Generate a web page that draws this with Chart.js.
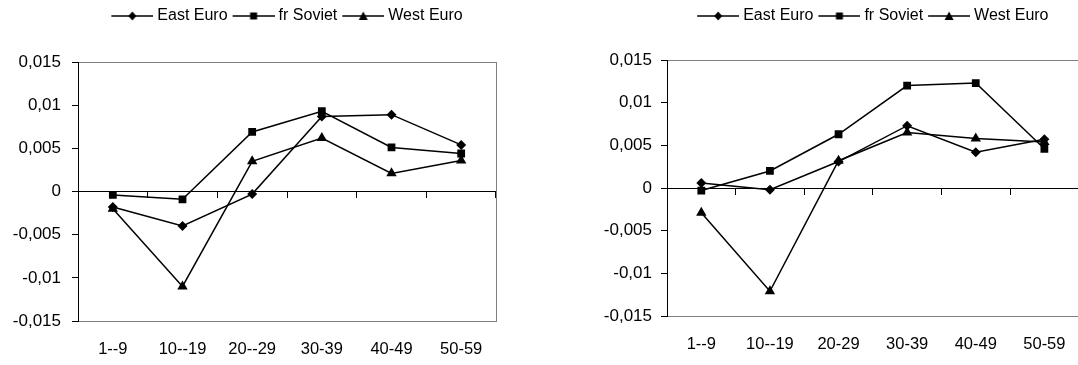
<!DOCTYPE html>
<html>
<head>
<meta charset="utf-8">
<script src="https://cdn.jsdelivr.net/npm/chart.js@4.4.1/dist/chart.umd.min.js"></script>
<style>
  html, body { margin: 0; padding: 0; background: #fff; overflow: hidden; }
  #wrap { position: relative; width: 1078px; height: 365px; overflow: hidden; }
  canvas { position: absolute; top: 0; }
  #left { left: 0; }
  #right { left: 540px; }
</style>
</head>
<body>
<div id="wrap">
  <canvas id="left" width="540" height="365"></canvas>
  <canvas id="right" width="545" height="365"></canvas>
</div>
<script>
const seriesNames = ['East Euro', 'fr Soviet', 'West Euro'];
const markerStyles = ['rectRot', 'rect', 'triangle'];
const markerSizes = [5, 5.5, 6];

const ageGroupsLeft = ['1--9', '10--19', '20--29', '30-39', '40-49', '50-59'];
const eastEuroLeft = [-0.0018, -0.0040, -0.0003, 0.0087, 0.0089, 0.0054];
const frSovietLeft = [-0.0004, -0.0009, 0.0069, 0.0093, 0.0051, 0.0044];
const westEuroLeft = [-0.0020, -0.0110, 0.0035, 0.0062, 0.0021, 0.0036];

const ageGroupsRight = ['1--9', '10--19', '20-29', '30-39', '40-49', '50-59'];
const eastEuroRight = [0.0006, -0.0002, 0.0031, 0.0073, 0.0042, 0.0057];
const frSovietRight = [-0.0003, 0.0020, 0.0063, 0.0120, 0.0123, 0.0046];
const westEuroRight = [-0.0029, -0.0121, 0.0032, 0.0065, 0.0058, 0.0054];

const yMin = -0.015;
const yMax = 0.015;
const yStep = 0.005;

Chart.defaults.font.family = '"Liberation Sans", Arial, sans-serif';
Chart.defaults.color = '#000';

// line + marker picture for the legend; the legend centres it on a 38px box,
// so it gets 4px of empty room on the left and the line sits from 4 to 46
const legendIcon = (style) => {
    const c = document.createElement('canvas');
    c.width = 46;
    c.height = 12;
    const g = c.getContext('2d');
    g.strokeStyle = '#000';
    g.lineWidth = 1.5;
    g.beginPath();
    g.moveTo(4, 6);
    g.lineTo(46, 6);
    g.stroke();
    g.fillStyle = '#000';
    g.beginPath();
    if (style === 'rectRot') {
        g.moveTo(25, 1.5); g.lineTo(29, 6); g.lineTo(25, 10.5); g.lineTo(21, 6);
    } else if (style === 'rect') {
        g.rect(21.5, 2.5, 7, 7);
    } else {
        g.moveTo(25, 1.5); g.lineTo(29.5, 10); g.lineTo(20.5, 10);
    }
    g.closePath();
    g.fill();
    return c;
};
const legendIcons = markerStyles.map(legendIcon);

const fmtTick = (v) => String(Math.round(v * 1000) / 1000).replace('.', ',');

const makeChart = (canvasId, labels, seriesValues, box) => {
    const datasets = seriesValues.map((values, i) => ({
        label: seriesNames[i],
        data: values,
        borderColor: '#000',
        backgroundColor: '#000',
        borderWidth: 1.5,
        pointStyle: markerStyles[i],
        pointRadius: markerSizes[i],
        pointHoverRadius: markerSizes[i],
        pointBorderWidth: 0,
        tension: 0
    }));

    const fixLegendHeight = {
        id: 'fixLegendHeight',
        afterInit(chart) {
            const fit = chart.legend.fit;
            chart.legend.fit = function () {
                fit.call(this);
                this.height = box.legendHeight;
            };
        }
    };

    return new Chart(document.getElementById(canvasId), {
        type: 'line',
        data: { labels, datasets },
        plugins: [fixLegendHeight],
        options: {
            responsive: false,
            animation: false,
            layout: { padding: { top: 3, right: box.padRight, bottom: 0, left: 0 } },
            plugins: {
                tooltip: { enabled: false },
                legend: {
                    position: 'top',
                    fullSize: false,
                    labels: {
                        usePointStyle: true,
                        pointStyleWidth: 38,
                        padding: 5,
                        color: '#000',
                        font: { size: 16 },
                        generateLabels(chart) {
                            const items = Chart.defaults.plugins.legend.labels.generateLabels(chart);
                            items.forEach((it, i) => { it.pointStyle = legendIcons[i]; });
                            return items;
                        }
                    }
                }
            },
            scales: {
                x: {
                    type: 'category',
                    offset: true,
                    grid: { display: false, drawTicks: false },
                    border: { color: '#808080', width: 1 },
                    ticks: { font: { size: 16.5 }, padding: box.labelPad, maxRotation: 0, autoSkip: false },
                    afterFit: (s) => { s.height = box.xHeight; }
                },
                x0: {
                    type: 'category',
                    position: { y: 0 },
                    offset: true,
                    grid: { offset: true, drawOnChartArea: false, color: '#000', tickLength: 6 },
                    border: { color: '#000', width: 1 },
                    ticks: { display: false }
                },
                y: {
                    min: yMin,
                    max: yMax,
                    ticks: { stepSize: yStep, font: { size: 17 }, padding: box.tickPad, callback: fmtTick },
                    grid: {
                        color: (ctx) => (ctx.tick && Math.abs(Math.abs(ctx.tick.value) - yMax) < 1e-9) ? '#808080' : 'rgba(0,0,0,0)',
                        tickColor: '#000',
                        tickLength: 6
                    },
                    border: { color: '#000', width: 1 },
                    afterFit: (s) => { s.width = box.yWidth; }
                },
                y2: {
                    position: 'right',
                    min: yMin,
                    max: yMax,
                    ticks: { display: false },
                    grid: { display: false, drawTicks: false },
                    border: { color: '#808080', width: 1 },
                    afterFit: (s) => { s.width = 0; }
                }
            }
        }
    });
};

makeChart('left', ageGroupsLeft, [eastEuroLeft, frSovietLeft, westEuroLeft],
    { yWidth: 78, xHeight: 44, legendHeight: 59, padRight: 44, tickPad: 11, labelPad: 19 });
makeChart('right', ageGroupsRight, [eastEuroRight, frSovietRight, westEuroRight],
    { yWidth: 127, xHeight: 49, legendHeight: 57, padRight: 5, tickPad: 9, labelPad: 19 });
</script>
</body>
</html>
